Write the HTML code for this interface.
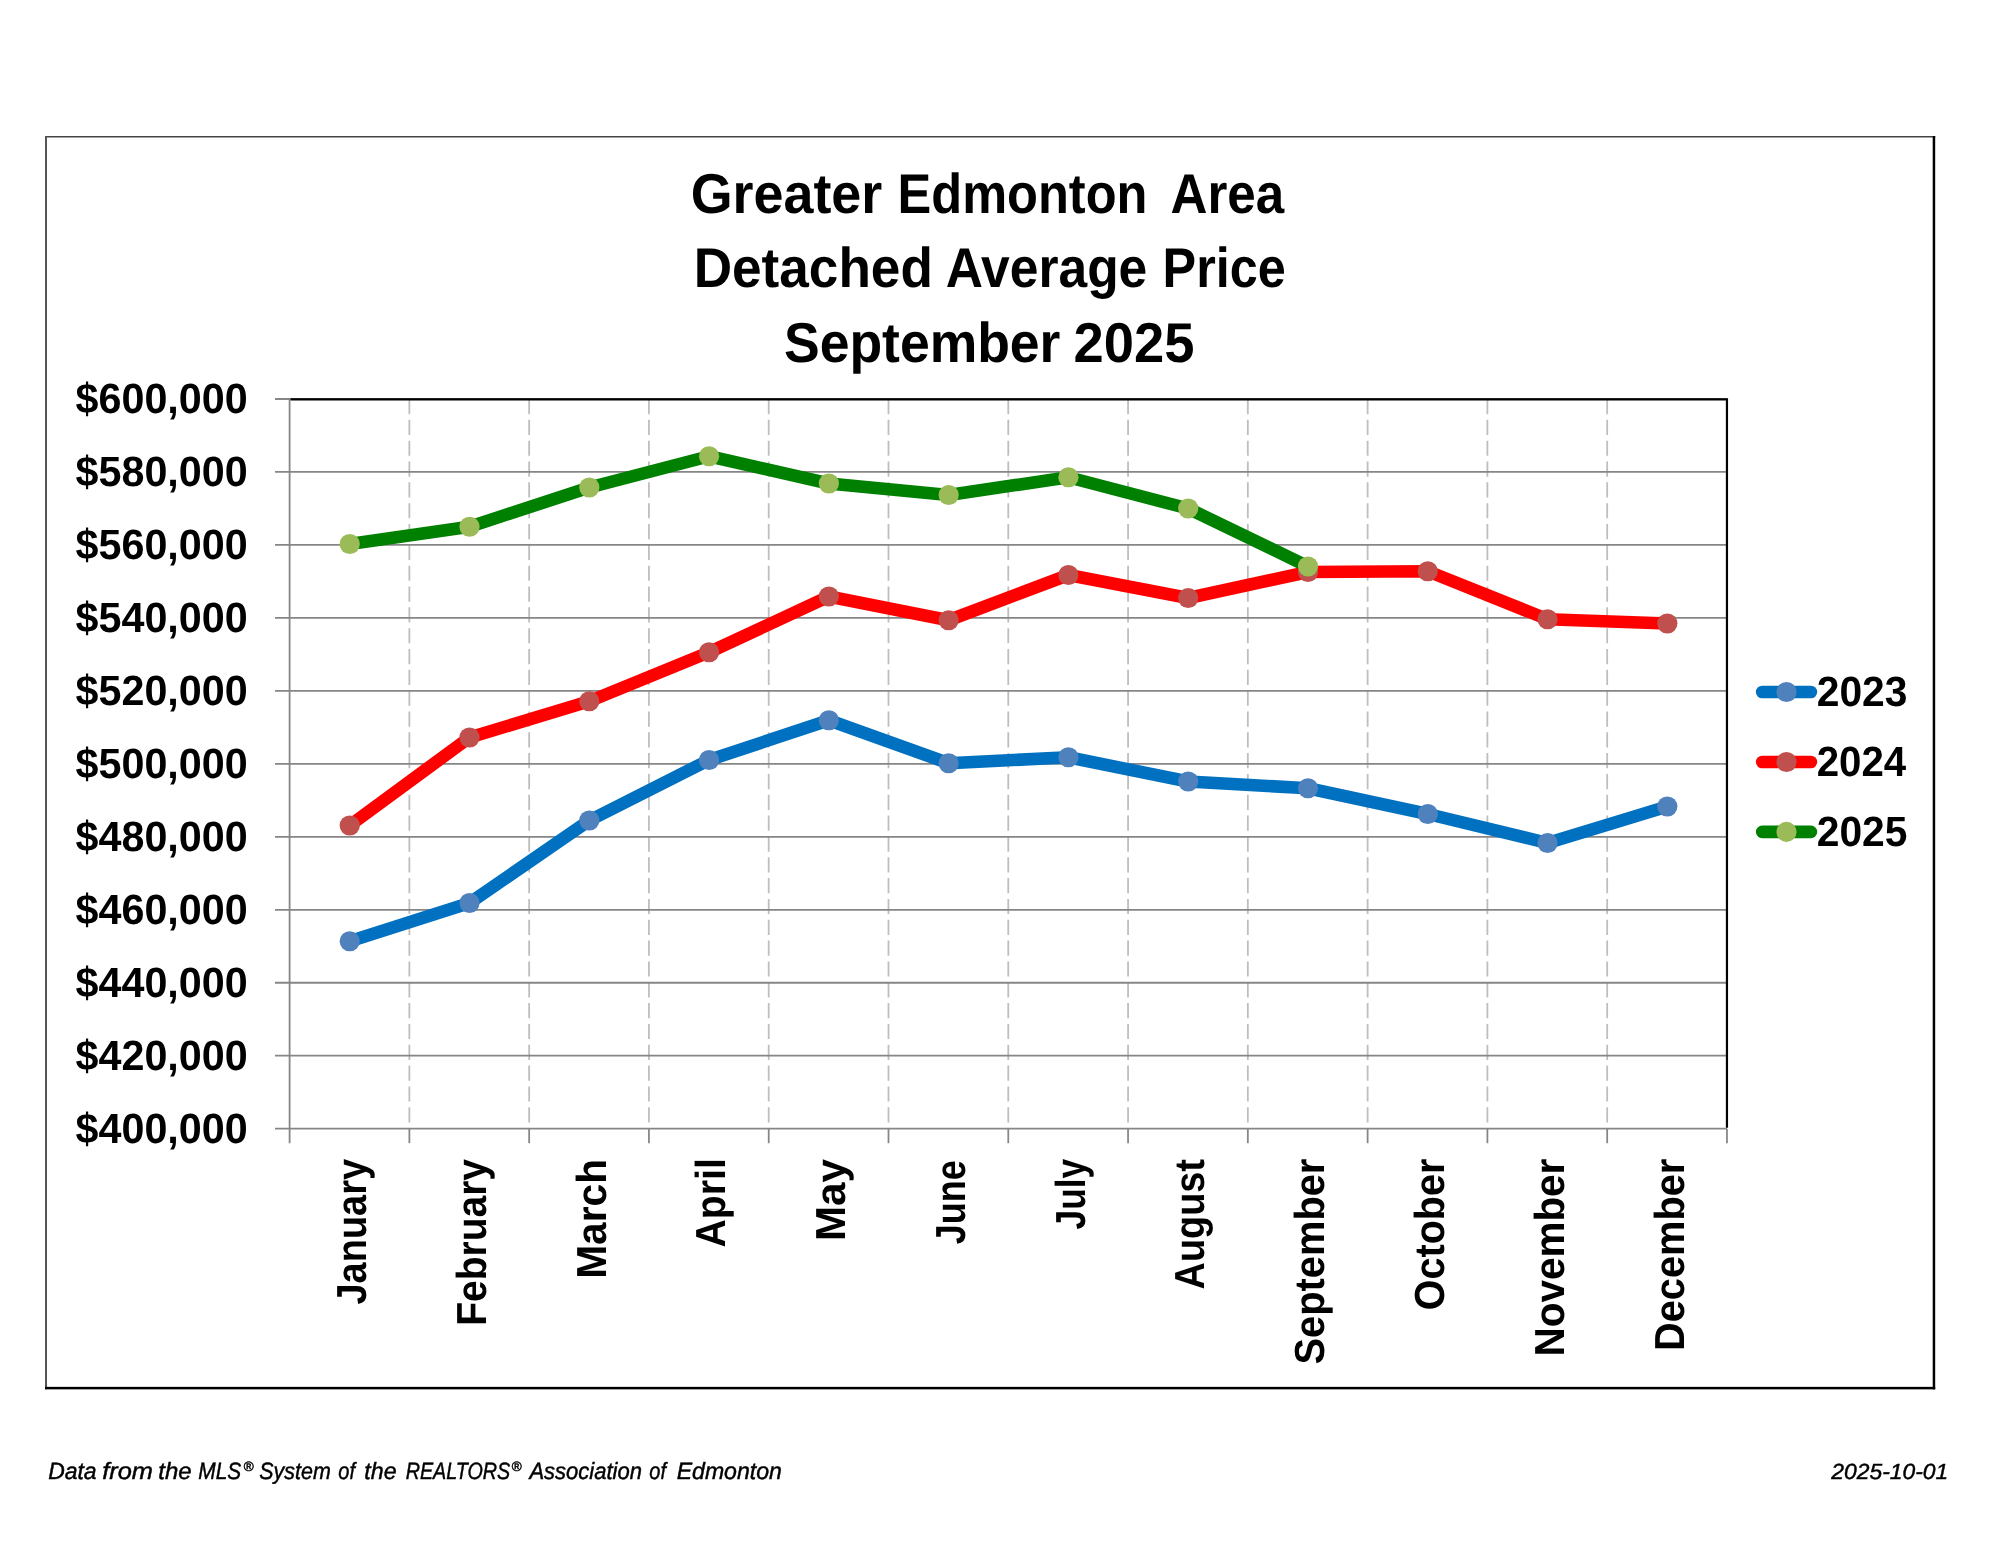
<!DOCTYPE html>
<html lang="en"><head><meta charset="utf-8"><title>Greater Edmonton Area - Detached Average Price - September 2025</title>
<style>html,body{margin:0;padding:0;background:#fff}body{width:2000px;height:1545px;overflow:hidden}svg{display:block;will-change:transform}text{font-family:"Liberation Sans",sans-serif;fill:#000;text-rendering:geometricPrecision}.b{font-weight:bold}.i{font-style:italic;stroke:#000;stroke-width:0.45px}</style>
</head><body>
<svg width="2000" height="1545" viewBox="0 0 2000 1545">
<rect x="0" y="0" width="2000" height="1545" fill="#ffffff"/>
<rect x="45" y="136" width="1890.2" height="1.5" fill="#444"/>
<rect x="45" y="136" width="2" height="1253.3" fill="#555"/>
<rect x="1932.7" y="136" width="2.5" height="1253.35" fill="#000"/>
<rect x="45" y="1386.85" width="1890.2" height="2.5" fill="#000"/>
<g stroke="#bebebe" stroke-width="1.8" stroke-dasharray="15.2 5.63" fill="none">
<line x1="409.38" y1="399.00" x2="409.38" y2="1128.70"/>
<line x1="529.16" y1="399.00" x2="529.16" y2="1128.70"/>
<line x1="648.94" y1="399.00" x2="648.94" y2="1128.70"/>
<line x1="768.72" y1="399.00" x2="768.72" y2="1128.70"/>
<line x1="888.50" y1="399.00" x2="888.50" y2="1128.70"/>
<line x1="1008.28" y1="399.00" x2="1008.28" y2="1128.70"/>
<line x1="1128.06" y1="399.00" x2="1128.06" y2="1128.70"/>
<line x1="1247.84" y1="399.00" x2="1247.84" y2="1128.70"/>
<line x1="1367.62" y1="399.00" x2="1367.62" y2="1128.70"/>
<line x1="1487.40" y1="399.00" x2="1487.40" y2="1128.70"/>
<line x1="1607.18" y1="399.00" x2="1607.18" y2="1128.70"/>
</g>
<g stroke="#868686" stroke-width="1.78" fill="none">
<line x1="275.00" y1="399.00" x2="1726.96" y2="399.00"/>
<line x1="275.00" y1="471.97" x2="1726.96" y2="471.97"/>
<line x1="275.00" y1="544.94" x2="1726.96" y2="544.94"/>
<line x1="275.00" y1="617.91" x2="1726.96" y2="617.91"/>
<line x1="275.00" y1="690.88" x2="1726.96" y2="690.88"/>
<line x1="275.00" y1="763.85" x2="1726.96" y2="763.85"/>
<line x1="275.00" y1="836.82" x2="1726.96" y2="836.82"/>
<line x1="275.00" y1="909.79" x2="1726.96" y2="909.79"/>
<line x1="275.00" y1="982.76" x2="1726.96" y2="982.76"/>
<line x1="275.00" y1="1055.73" x2="1726.96" y2="1055.73"/>
<line x1="275.00" y1="1128.70" x2="1726.96" y2="1128.70"/>
<line x1="289.60" y1="398.00" x2="289.60" y2="1143.20"/>
<line x1="409.38" y1="1128.70" x2="409.38" y2="1143.20"/>
<line x1="529.16" y1="1128.70" x2="529.16" y2="1143.20"/>
<line x1="648.94" y1="1128.70" x2="648.94" y2="1143.20"/>
<line x1="768.72" y1="1128.70" x2="768.72" y2="1143.20"/>
<line x1="888.50" y1="1128.70" x2="888.50" y2="1143.20"/>
<line x1="1008.28" y1="1128.70" x2="1008.28" y2="1143.20"/>
<line x1="1128.06" y1="1128.70" x2="1128.06" y2="1143.20"/>
<line x1="1247.84" y1="1128.70" x2="1247.84" y2="1143.20"/>
<line x1="1367.62" y1="1128.70" x2="1367.62" y2="1143.20"/>
<line x1="1487.40" y1="1128.70" x2="1487.40" y2="1143.20"/>
<line x1="1607.18" y1="1128.70" x2="1607.18" y2="1143.20"/>
<line x1="1726.96" y1="1128.70" x2="1726.96" y2="1143.20"/>
</g>
<path d="M290.60 399.30 H1726.96 V1127.70" stroke="#000" stroke-width="2.2" fill="none" stroke-linejoin="miter"/>
<polyline points="349.74,941.25 469.52,903.00 589.30,820.50 709.08,760.00 828.86,720.25 948.64,763.25 1068.42,757.25 1188.20,781.50 1307.98,788.25 1427.76,814.00 1547.54,843.00 1667.32,806.50" fill="none" stroke="#0070c0" stroke-width="12.6" stroke-linejoin="round" stroke-linecap="round"/>
<circle cx="349.74" cy="941.25" r="10.1" fill="#4f81bd"/>
<circle cx="469.52" cy="903.00" r="10.1" fill="#4f81bd"/>
<circle cx="589.30" cy="820.50" r="10.1" fill="#4f81bd"/>
<circle cx="709.08" cy="760.00" r="10.1" fill="#4f81bd"/>
<circle cx="828.86" cy="720.25" r="10.1" fill="#4f81bd"/>
<circle cx="948.64" cy="763.25" r="10.1" fill="#4f81bd"/>
<circle cx="1068.42" cy="757.25" r="10.1" fill="#4f81bd"/>
<circle cx="1188.20" cy="781.50" r="10.1" fill="#4f81bd"/>
<circle cx="1307.98" cy="788.25" r="10.1" fill="#4f81bd"/>
<circle cx="1427.76" cy="814.00" r="10.1" fill="#4f81bd"/>
<circle cx="1547.54" cy="843.00" r="10.1" fill="#4f81bd"/>
<circle cx="1667.32" cy="806.50" r="10.1" fill="#4f81bd"/>
<polyline points="349.74,825.50 469.52,737.50 589.30,701.25 709.08,652.25 828.86,596.50 948.64,620.25 1068.42,575.00 1188.20,598.00 1307.98,572.00 1427.76,571.25 1547.54,619.25 1667.32,623.50" fill="none" stroke="#ff0000" stroke-width="12.6" stroke-linejoin="round" stroke-linecap="round"/>
<circle cx="349.74" cy="825.50" r="10.1" fill="#c0504d"/>
<circle cx="469.52" cy="737.50" r="10.1" fill="#c0504d"/>
<circle cx="589.30" cy="701.25" r="10.1" fill="#c0504d"/>
<circle cx="709.08" cy="652.25" r="10.1" fill="#c0504d"/>
<circle cx="828.86" cy="596.50" r="10.1" fill="#c0504d"/>
<circle cx="948.64" cy="620.25" r="10.1" fill="#c0504d"/>
<circle cx="1068.42" cy="575.00" r="10.1" fill="#c0504d"/>
<circle cx="1188.20" cy="598.00" r="10.1" fill="#c0504d"/>
<circle cx="1307.98" cy="572.00" r="10.1" fill="#c0504d"/>
<circle cx="1427.76" cy="571.25" r="10.1" fill="#c0504d"/>
<circle cx="1547.54" cy="619.25" r="10.1" fill="#c0504d"/>
<circle cx="1667.32" cy="623.50" r="10.1" fill="#c0504d"/>
<polyline points="349.74,544.00 469.52,526.75 589.30,487.50 709.08,456.25 828.86,483.50 948.64,495.00 1068.42,477.25 1188.20,508.50 1307.98,566.50" fill="none" stroke="#008000" stroke-width="12.6" stroke-linejoin="round" stroke-linecap="round"/>
<circle cx="349.74" cy="544.00" r="10.1" fill="#9bbb59"/>
<circle cx="469.52" cy="526.75" r="10.1" fill="#9bbb59"/>
<circle cx="589.30" cy="487.50" r="10.1" fill="#9bbb59"/>
<circle cx="709.08" cy="456.25" r="10.1" fill="#9bbb59"/>
<circle cx="828.86" cy="483.50" r="10.1" fill="#9bbb59"/>
<circle cx="948.64" cy="495.00" r="10.1" fill="#9bbb59"/>
<circle cx="1068.42" cy="477.25" r="10.1" fill="#9bbb59"/>
<circle cx="1188.20" cy="508.50" r="10.1" fill="#9bbb59"/>
<circle cx="1307.98" cy="566.50" r="10.1" fill="#9bbb59"/>
<line x1="1762.2" y1="692.0" x2="1810.9" y2="692.0" stroke="#0070c0" stroke-width="12.6" stroke-linecap="round"/>
<circle cx="1786.5" cy="692.0" r="10.1" fill="#4f81bd"/>
<line x1="1762.2" y1="762.0" x2="1810.9" y2="762.0" stroke="#ff0000" stroke-width="12.6" stroke-linecap="round"/>
<circle cx="1786.5" cy="762.0" r="10.1" fill="#c0504d"/>
<line x1="1762.2" y1="831.9" x2="1810.9" y2="831.9" stroke="#008000" stroke-width="12.6" stroke-linecap="round"/>
<circle cx="1786.5" cy="831.9" r="10.1" fill="#9bbb59"/>
<text class="b" x="690.72" y="213.00" font-size="56.1" textLength="191.54" lengthAdjust="spacingAndGlyphs">Greater</text>
<text class="b" x="897.54" y="213.00" font-size="56.1" textLength="249.90" lengthAdjust="spacingAndGlyphs">Edmonton</text>
<text class="b" x="1170.50" y="213.00" font-size="56.1" textLength="113.67" lengthAdjust="spacingAndGlyphs">Area</text>
<text class="b" x="693.68" y="287.40" font-size="56.1" textLength="239.22" lengthAdjust="spacingAndGlyphs">Detached</text>
<text class="b" x="945.79" y="287.40" font-size="56.1" textLength="201.49" lengthAdjust="spacingAndGlyphs">Average</text>
<text class="b" x="1162.55" y="287.40" font-size="56.1" textLength="123.20" lengthAdjust="spacingAndGlyphs">Price</text>
<text class="b" x="783.96" y="361.80" font-size="56.1" textLength="276.49" lengthAdjust="spacingAndGlyphs">September</text>
<text class="b" x="1073.50" y="361.80" font-size="56.1" textLength="120.85" lengthAdjust="spacingAndGlyphs">2025</text>
<text class="b" x="75.60" y="412.90" font-size="42.3" textLength="172.07" lengthAdjust="spacingAndGlyphs">$600,000</text>
<text class="b" x="75.60" y="485.87" font-size="42.3" textLength="172.07" lengthAdjust="spacingAndGlyphs">$580,000</text>
<text class="b" x="75.60" y="558.84" font-size="42.3" textLength="172.07" lengthAdjust="spacingAndGlyphs">$560,000</text>
<text class="b" x="75.60" y="631.81" font-size="42.3" textLength="172.07" lengthAdjust="spacingAndGlyphs">$540,000</text>
<text class="b" x="75.60" y="704.78" font-size="42.3" textLength="172.07" lengthAdjust="spacingAndGlyphs">$520,000</text>
<text class="b" x="75.60" y="777.75" font-size="42.3" textLength="172.07" lengthAdjust="spacingAndGlyphs">$500,000</text>
<text class="b" x="75.60" y="850.72" font-size="42.3" textLength="172.07" lengthAdjust="spacingAndGlyphs">$480,000</text>
<text class="b" x="75.60" y="923.69" font-size="42.3" textLength="172.07" lengthAdjust="spacingAndGlyphs">$460,000</text>
<text class="b" x="75.60" y="996.66" font-size="42.3" textLength="172.07" lengthAdjust="spacingAndGlyphs">$440,000</text>
<text class="b" x="75.60" y="1069.63" font-size="42.3" textLength="172.07" lengthAdjust="spacingAndGlyphs">$420,000</text>
<text class="b" x="75.60" y="1142.60" font-size="42.3" textLength="172.07" lengthAdjust="spacingAndGlyphs">$400,000</text>
<text class="b" transform="translate(365.94 1304.50) rotate(-90)" font-size="42.0" textLength="145.56" lengthAdjust="spacingAndGlyphs">January</text>
<text class="b" transform="translate(485.72 1325.84) rotate(-90)" font-size="42.0" textLength="166.89" lengthAdjust="spacingAndGlyphs">February</text>
<text class="b" transform="translate(605.50 1278.74) rotate(-90)" font-size="42.0" textLength="119.70" lengthAdjust="spacingAndGlyphs">March</text>
<text class="b" transform="translate(725.28 1247.51) rotate(-90)" font-size="42.0" textLength="89.33" lengthAdjust="spacingAndGlyphs">April</text>
<text class="b" transform="translate(845.06 1241.04) rotate(-90)" font-size="42.0" textLength="82.07" lengthAdjust="spacingAndGlyphs">May</text>
<text class="b" transform="translate(964.84 1244.20) rotate(-90)" font-size="42.0" textLength="84.10" lengthAdjust="spacingAndGlyphs">June</text>
<text class="b" transform="translate(1084.62 1229.40) rotate(-90)" font-size="42.0" textLength="70.48" lengthAdjust="spacingAndGlyphs">July</text>
<text class="b" transform="translate(1204.40 1289.39) rotate(-90)" font-size="42.0" textLength="130.38" lengthAdjust="spacingAndGlyphs">August</text>
<text class="b" transform="translate(1324.18 1364.52) rotate(-90)" font-size="42.0" textLength="205.89" lengthAdjust="spacingAndGlyphs">September</text>
<text class="b" transform="translate(1443.96 1310.24) rotate(-90)" font-size="42.0" textLength="151.60" lengthAdjust="spacingAndGlyphs">October</text>
<text class="b" transform="translate(1563.74 1356.53) rotate(-90)" font-size="42.0" textLength="197.90" lengthAdjust="spacingAndGlyphs">November</text>
<text class="b" transform="translate(1683.52 1351.09) rotate(-90)" font-size="42.0" textLength="192.45" lengthAdjust="spacingAndGlyphs">December</text>
<text class="b" x="1816.72" y="706.00" font-size="42.3" textLength="90.79" lengthAdjust="spacingAndGlyphs">2023</text>
<text class="b" x="1816.74" y="776.00" font-size="42.3" textLength="89.50" lengthAdjust="spacingAndGlyphs">2024</text>
<text class="b" x="1816.72" y="846.00" font-size="42.3" textLength="90.79" lengthAdjust="spacingAndGlyphs">2025</text>
<text class="i" x="48.14" y="1479.20" font-size="23.5" textLength="48.43" lengthAdjust="spacingAndGlyphs">Data</text>
<text class="i" x="102.21" y="1479.20" font-size="23.5" textLength="50.71" lengthAdjust="spacingAndGlyphs">from</text>
<text class="i" x="158.25" y="1479.20" font-size="23.5" textLength="33.35" lengthAdjust="spacingAndGlyphs">the</text>
<text class="i" x="198.27" y="1479.20" font-size="23.5" textLength="42.95" lengthAdjust="spacingAndGlyphs">MLS</text>
<text class="i" x="259.26" y="1479.20" font-size="23.5" textLength="71.51" lengthAdjust="spacingAndGlyphs">System</text>
<text class="i" x="338.37" y="1479.20" font-size="23.5" textLength="16.68" lengthAdjust="spacingAndGlyphs">of</text>
<text class="i" x="364.27" y="1479.20" font-size="23.5" textLength="32.30" lengthAdjust="spacingAndGlyphs">the</text>
<text class="i" x="405.69" y="1479.20" font-size="23.5" textLength="104.52" lengthAdjust="spacingAndGlyphs">REALTORS</text>
<text class="i" x="529.38" y="1479.20" font-size="23.5" textLength="112.52" lengthAdjust="spacingAndGlyphs">Association</text>
<text class="i" x="649.37" y="1479.20" font-size="23.5" textLength="16.68" lengthAdjust="spacingAndGlyphs">of</text>
<text class="i" x="676.64" y="1479.20" font-size="23.5" textLength="105.30" lengthAdjust="spacingAndGlyphs">Edmonton</text>
<text class="i" x="1831.36" y="1479.40" font-size="21.9" textLength="116.78" lengthAdjust="spacingAndGlyphs">2025-10-01</text>
<text class="i" x="243.6" y="1471.4" font-size="13.6">®</text>
<text class="i" x="511.4" y="1471.4" font-size="13.6">®</text>
</svg></body></html>
